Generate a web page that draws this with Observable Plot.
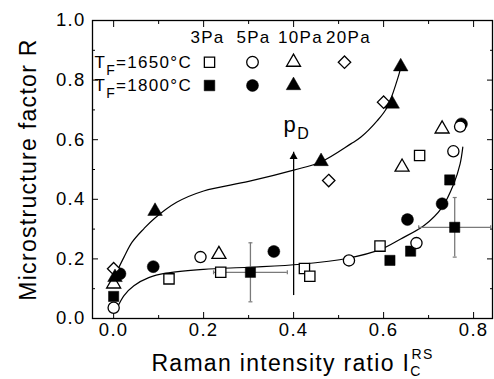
<!DOCTYPE html>
<html>
<head>
<meta charset="utf-8">
<script src="https://cdn.jsdelivr.net/npm/d3@7"></script>
<script src="https://cdn.jsdelivr.net/npm/@observablehq/plot@0.6"></script>
<style>
  html, body { margin: 0; padding: 0; background: white; }
</style>
</head>
<body>
<div id="chart"></div>
<script>
// ---- tick values ----
const xTicks = [0, 0.2, 0.4, 0.6, 0.8];
const xMinorTicks = [0.1, 0.3, 0.5, 0.7];
const yTicks = [0, 0.2, 0.4, 0.6, 0.8, 1.0];
const yMinorTicks = [0.1, 0.3, 0.5, 0.7, 0.9];

// ---- data series: [Raman ratio, microstructure factor R] ----
const sq1650 = [[0.123,0.133],[0.238,0.155],[0.424,0.168],[0.436,0.142],[0.592,0.243],[0.68,0.547]];   // 3Pa, 1650°C
const sq1800 = [[0.0,0.074],[0.304,0.155],[0.614,0.195],[0.66,0.226],[0.747,0.465],[0.758,0.306]];    // 3Pa, 1800°C
const ci1650 = [[0.0,0.036],[0.193,0.206],[0.523,0.195],[0.673,0.253],[0.755,0.561],[0.770,0.644]];   // 5Pa, 1650°C
const ci1800 = [[0.014,0.15],[0.088,0.174],[0.356,0.225],[0.653,0.332],[0.73,0.385],[0.773,0.653]];   // 5Pa, 1800°C
const tr1650 = [[0.0,0.116],[0.234,0.215],[0.641,0.508],[0.73,0.636]];                                 // 10Pa, 1650°C
const tr1800 = [[0.003,0.138],[0.092,0.36],[0.461,0.527],[0.619,0.72],[0.638,0.845]];                 // 10Pa, 1800°C
const di1650 = [[0.0,0.167],[0.478,0.463],[0.6,0.726]];                                                // 20Pa, 1650°C

// error bars (filled squares)
const errX = [0.304, 0.758];
const errY = [0.155, 0.306];
const errXHalf = [0.082, 0.08];
const errYHalf = [0.099, 0.1];

// fitted curves
const upperCurve = [[0.008,0.16],[0.023,0.206],[0.041,0.256],[0.067,0.301],[0.09,0.335],[0.14,0.39],[0.2,0.428],[0.3,0.46],[0.4,0.498],[0.46,0.525],[0.527,0.586],[0.549,0.608],[0.586,0.664],[0.608,0.709],[0.63,0.799],[0.638,0.84]];
const lowerCurve = [[0.008,0.036],[0.023,0.077],[0.045,0.11],[0.078,0.137],[0.116,0.152],[0.2,0.165],[0.3,0.172],[0.416,0.182],[0.523,0.203],[0.592,0.231],[0.638,0.267],[0.69,0.312],[0.73,0.373],[0.756,0.452],[0.77,0.519],[0.776,0.575]];

// p_D arrow
const arrowX = [0.4];
const arrowY = [0.077, 0.558];

// legend
const pressures = ["3Pa", "5Pa", "10Pa", "20Pa"];
const tempLabels = ["T_F=1650°C", "T_F=1800°C"];
const xLabel = "Raman intensity ratio I_C^RS";
const yLabel = "Microstructure factor R";

const fmt = d3.format(".1f");
const gray = "#7a7a7a";
const hCap = {draw(ctx, size) { const r = Math.sqrt(size / Math.PI); ctx.moveTo(-r, 0); ctx.lineTo(r, 0); }};
const vCap = {draw(ctx, size) { const r = Math.sqrt(size / Math.PI); ctx.moveTo(0, -r); ctx.lineTo(0, r); }};
const idx = errX.map((_, i) => i);
const X = d => d[0], Y = d => d[1];

const openStyle = {stroke: "black", fill: "white", strokeWidth: 1.3};
const fillStyle = {fill: "black", stroke: "black", strokeWidth: 0.5};

// legend geometry (offsets from the frame's top-left)
const legendHeadDx = [115, 161, 208, 256];
const legendSymDx = [117, 160, 201, 252];
const legendSyms = ["square", "circle", "triangle", "diamond2"];
const legendR = [5.8, 5.8, 5.2, 5.6];

const marks = [
  Plot.frame({stroke: "black", strokeWidth: 1.3}),
  // axes: ticks inside on all four sides
  Plot.axisX(xTicks, {anchor: "bottom", tickSize: -6, tickPadding: 10, tickFormat: fmt, fontSize: 18.5, label: null}),
  Plot.axisX(xMinorTicks, {anchor: "bottom", tickSize: -3, tickFormat: () => "", label: null}),
  Plot.axisX(xTicks, {anchor: "top", tickSize: -6, tickFormat: () => "", label: null}),
  Plot.axisX(xMinorTicks, {anchor: "top", tickSize: -3, tickFormat: () => "", label: null}),
  Plot.axisY(yTicks, {anchor: "left", tickSize: -6, tickPadding: 13, tickFormat: fmt, fontSize: 18.5, label: null}),
  Plot.axisY(yMinorTicks, {anchor: "left", tickSize: -3, tickFormat: () => "", label: null}),
  Plot.axisY(yTicks, {anchor: "right", tickSize: -6, tickFormat: () => "", label: null}),
  Plot.axisY(yMinorTicks, {anchor: "right", tickSize: -3, tickFormat: () => "", label: null}),

  // fitted curves
  Plot.line(upperCurve, {x: X, y: Y, curve: "catmull-rom", stroke: "black", strokeWidth: 1.2}),
  Plot.line(lowerCurve, {x: X, y: Y, curve: "catmull-rom", stroke: "black", strokeWidth: 1.2}),

  // error bars
  Plot.ruleX(idx, {x: i => errX[i], y1: i => errY[i] - errYHalf[i], y2: i => errY[i] + errYHalf[i], stroke: gray, strokeWidth: 1.3}),
  Plot.ruleY(idx, {y: i => errY[i], x1: i => errX[i] - errXHalf[i], x2: i => errX[i] + errXHalf[i], stroke: gray, strokeWidth: 1.3}),
  Plot.dot(idx, {x: i => errX[i], y: i => errY[i] + errYHalf[i], symbol: hCap, r: 2, stroke: gray, fill: "none", strokeWidth: 1.2}),
  Plot.dot(idx, {x: i => errX[i], y: i => errY[i] - errYHalf[i], symbol: hCap, r: 2, stroke: gray, fill: "none", strokeWidth: 1.2}),
  Plot.dot(idx, {x: i => errX[i] + errXHalf[i], y: i => errY[i], symbol: vCap, r: 2, stroke: gray, fill: "none", strokeWidth: 1.2}),
  Plot.dot(idx, {x: i => errX[i] - errXHalf[i], y: i => errY[i], symbol: vCap, r: 2, stroke: gray, fill: "none", strokeWidth: 1.2}),

  // arrow p_D
  Plot.ruleX(arrowX, {x: d => d, y1: arrowY[0], y2: arrowY[1], stroke: "black", strokeWidth: 1.3}),
  Plot.dot(arrowX, {x: d => d, y: arrowY[1], symbol: "triangle", r: 3, fill: "black", dy: 4.5}),
  Plot.text(["p_D"], {x: arrowX[0], y: arrowY[1], dx: -10, dy: -27, textAnchor: "start", lineAnchor: "middle", fontSize: 22}),

  // data points
  Plot.dot(sq1800, {x: X, y: Y, symbol: "square", r: 5.8, ...fillStyle}),
  Plot.dot(ci1800, {x: X, y: Y, symbol: "circle", r: 6, ...fillStyle}),
  Plot.dot(sq1650, {x: X, y: Y, symbol: "square", r: 5.8, ...openStyle}),
  Plot.dot(ci1650, {x: X, y: Y, symbol: "circle", r: 5.6, ...openStyle}),
  Plot.dot(tr1650, {x: X, y: Y, symbol: "triangle", r: 5.2, ...openStyle}),
  Plot.dot(di1650, {x: X, y: Y, symbol: "diamond2", r: 5.6, ...openStyle}),
  Plot.dot(tr1800, {x: X, y: Y, symbol: "triangle", r: 5.4, ...fillStyle}),

  // legend
  ...pressures.map((p, i) => Plot.text([p], {frameAnchor: "top-left", dx: legendHeadDx[i], dy: 17, textAnchor: "middle", lineAnchor: "middle", fontSize: 17})),
  ...tempLabels.map((t, j) => Plot.text([t], {frameAnchor: "top-left", dx: 2, dy: j === 0 ? 42 : 65, textAnchor: "start", lineAnchor: "middle", fontSize: 17})),
  ...legendSyms.map((s, i) => Plot.dot([0], {frameAnchor: "top-left", dx: legendSymDx[i], dy: 41.7, symbol: s, r: legendR[i], ...openStyle})),
  ...legendSyms.slice(0, 3).map((s, i) => Plot.dot([0], {frameAnchor: "top-left", dx: legendSymDx[i], dy: 65, symbol: s, r: legendR[i] + 0.2, ...fillStyle})),

  // axis titles
  Plot.text([xLabel], {frameAnchor: "bottom", dy: 45, textAnchor: "middle", lineAnchor: "middle", fontSize: 23}),
  Plot.text([yLabel], {frameAnchor: "left", dx: -64, rotate: -90, textAnchor: "middle", lineAnchor: "middle", fontSize: 23})
];

const chart = Plot.plot({
  width: 494,
  height: 379,
  marginLeft: 92,
  marginRight: 2,
  marginTop: 20,
  marginBottom: 61,
  x: {domain: [-0.047, 0.842]},
  y: {domain: [0, 1]},
  style: {fontFamily: "'Liberation Sans', Arial, sans-serif", background: "white", color: "black", letterSpacing: "1.3px"},
  marks
});

// rich text (subscripts / superscripts)
function rich(svg, content, parts) {
  d3.select(svg).selectAll("text").filter(function() { return this.textContent === content; }).each(function() {
    const t = d3.select(this);
    t.text(null);
    for (const p of parts) {
      const s = t.append("tspan").text(p.text);
      if (p.dx != null) s.attr("dx", p.dx);
      if (p.dy != null) s.attr("dy", p.dy);
      if (p.size != null) s.attr("font-size", p.size);
    }
  });
}
rich(chart, "T_F=1650°C", [{text: "T"}, {text: "F", dy: 7, size: 14}, {text: "=1650°C", dy: -7}]);
rich(chart, "T_F=1800°C", [{text: "T"}, {text: "F", dy: 7, size: 14}, {text: "=1800°C", dy: -7}]);
rich(chart, "p_D", [{text: "p"}, {text: "D", dy: 7, size: 16}]);
rich(chart, xLabel, [{text: "Raman intensity ratio I"}, {text: "C", dy: 5, size: 14}, {text: "RS", dx: -10, dy: -17, size: 14}]);

document.getElementById("chart").appendChild(chart);
</script>
</body>
</html>
